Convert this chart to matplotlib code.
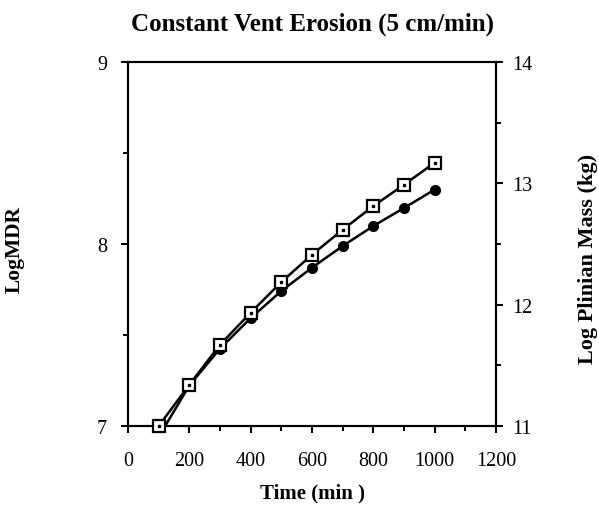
import matplotlib
matplotlib.use("Agg")
import matplotlib.pyplot as plt
from matplotlib.ticker import MultipleLocator

plt.rcParams['font.family'] = ['Liberation Serif', 'DejaVu Serif']

time_min = [100, 200, 300, 400, 500, 600, 700, 800, 900, 1000]
log_mdr = [6.94, 7.223, 7.425, 7.593, 7.742, 7.870, 7.989, 8.099, 8.198, 8.299]
log_plinian_mass = [11.0, 11.34, 11.67, 11.934, 12.187, 12.412, 12.618, 12.813, 12.989, 13.17]

x_ticks = [0, 200, 400, 600, 800, 1000, 1200]
left_ticks = [7, 8, 9]
right_ticks = [11, 12, 13, 14]

fig = plt.figure(figsize=(5.99, 5.06), dpi=100)
ax = fig.add_axes([0.2137, 0.1561, 0.6144, 0.7194])
ax2 = ax.twinx()

ax.plot(time_min, log_mdr, color='black', lw=1.8, marker='o', ms=7,
        mfc='black', mec='black', clip_on=True, zorder=3)
ax2.plot(time_min, log_plinian_mass, color='black', lw=1.8, marker='s', ms=8,
         mfc='white', mec='black', mew=1.6, clip_on=False, zorder=3)
ax2.plot(time_min, log_plinian_mass, ls='none', marker='s', ms=1.8,
         mfc='black', mec='black', clip_on=False, zorder=4)

ax.set_xlim(0, 1200)
ax.set_ylim(7, 9)
ax2.set_ylim(11, 14)
ax.set_xticks(x_ticks)
ax.set_yticks(left_ticks)
ax2.set_yticks(right_ticks)
ax.xaxis.set_minor_locator(MultipleLocator(100))
ax.yaxis.set_minor_locator(MultipleLocator(0.5))
ax2.yaxis.set_minor_locator(MultipleLocator(0.5))

for a in (ax, ax2):
    for s in a.spines.values():
        s.set_linewidth(1.5)
    a.tick_params(which='major', direction='out', length=5, width=1.5, labelsize=14.5)
    a.tick_params(which='minor', direction='out', length=3.5, width=1.5)
ax.tick_params(axis='x', pad=13)
ax.tick_params(axis='y', pad=10)
ax2.tick_params(axis='y', pad=7)

ax.set_title('Constant Vent Erosion (5 cm/min)', fontsize=18, fontweight='bold', pad=23)
ax.set_xlabel('Time (min )', fontsize=15, fontweight='bold', labelpad=9)
ax.set_ylabel('LogMDR', fontsize=15.5, fontweight='bold')
ax.yaxis.set_label_coords(-0.280, 0.489)
ax2.set_ylabel('Log Plinian Mass (kg)', fontsize=16, fontweight='bold')
ax2.yaxis.set_label_coords(1.222, 0.462)

fig.savefig('out.png', dpi=100)
